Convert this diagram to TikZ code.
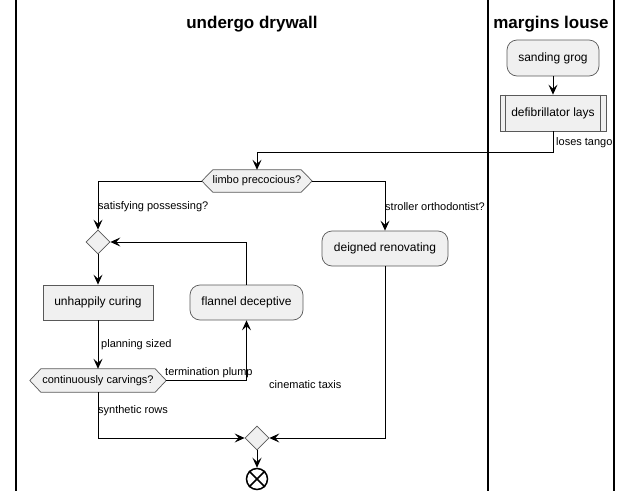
\documentclass[tikz,border=0pt]{standalone}
\usepackage{fontspec}
\setmainfont{Liberation Sans}
\usetikzlibrary{arrows.meta,shapes.geometric}
\begin{document}
\begin{tikzpicture}[x=1pt,y=-1pt,
  box/.style={draw=black!65, fill=black!6, line width=0.7pt, font=\fontsize{12}{14}\selectfont, inner sep=0pt},
  act/.style={box, rounded corners=10pt},
  hexbox/.style={inner sep=0pt, font=\fontsize{11}{13}\selectfont},
  hexline/.style={draw=black!65, fill=black!6, line width=0.7pt},
  dia/.style={box, shape=diamond, minimum width=24pt, minimum height=24pt},
  lbl/.style={font=\fontsize{11}{13}\selectfont, inner sep=0pt, anchor=west},
  title/.style={font=\bfseries\fontsize{17}{20}\selectfont, inner sep=0pt},
  lane/.style={line width=1.2pt},
  conn/.style={line width=1pt, -{Stealth[length=10pt,width=9pt,inset=4pt]}},
  plain/.style={line width=1pt}
]
\useasboundingbox (0,0) rectangle (633,501);
% lanes
\draw[lane] (16,0) -- (16,491);
\draw[lane] (488,0) -- (488,491);
\draw[lane] (614,0) -- (614,491);
\node[title] (t1) at (252,24) {undergo drywall};
\node[title] (t2) at (551,24) {margins louse};

% nodes
\node[act, minimum width=92pt, minimum height=36pt] (sg) at (553,58) {sanding grog};
\node[box, minimum width=106pt, minimum height=36pt] (df) at (553,113) {defibrillator lays};
\draw[line width=0.7pt, draw=black!65] ([xshift=6pt]df.north west) -- ([xshift=6pt]df.south west);
\draw[line width=0.7pt, draw=black!65] ([xshift=-6pt]df.north east) -- ([xshift=-6pt]df.south east);

\node[hexbox, minimum width=110pt, minimum height=22pt] (h1) at (257,181) {};
\draw[hexline] (h1.west) -- ([xshift=11pt]h1.north west) -- ([xshift=-11pt]h1.north east) -- (h1.east) -- ([xshift=-11pt]h1.south east) -- ([xshift=11pt]h1.south west) -- cycle;
\node[hexbox] at (h1) {limbo precocious?};

\node[dia] (d1) at (98,242) {};
\node[act, minimum width=126pt, minimum height=35pt] (dr) at (385,248.5) {deigned renovating};
\node[box, minimum width=110pt, minimum height=35pt] (uc) at (98,302.5) {unhappily curing};
\node[act, minimum width=113pt, minimum height=35pt] (fd) at (246.5,302.5) {flannel deceptive};

\node[hexbox, minimum width=136pt, minimum height=23pt] (h2) at (98,380.5) {};
\draw[hexline] (h2.west) -- ([xshift=11pt]h2.north west) -- ([xshift=-11pt]h2.north east) -- (h2.east) -- ([xshift=-11pt]h2.south east) -- ([xshift=11pt]h2.south west) -- cycle;
\node[hexbox] at (h2) {continuously carvings?};

\node[dia] (d2) at (257,438) {};
\node[circle, draw=black, line width=1.5pt, minimum size=21pt, inner sep=0pt] (end) at (257,479) {};
\draw[line width=1.5pt] (end.45) -- (end.225);
\draw[line width=1.5pt] (end.135) -- (end.-45);

% connectors
\draw[conn] (sg) -- (df);
\draw[conn] (df.south) -- ++(0,21) -| (h1.north);
\draw[conn] (h1.west) -| (d1.north);
\draw[conn] (h1.east) -| (dr.north);
\draw[conn] (d1) -- (uc);
\draw[conn] (uc) -- (h2.north);
\draw[conn] (h2.east) -| (fd.south);
\draw[conn] (fd.north) |- (d1.east);
\draw[conn] (h2.south) |- (d2.west);
\draw[conn] (dr.south) |- (d2.east);
\draw[conn] (d2) -- (end);

% labels
\node[lbl] (l1) at (556,143) {loses tango};
\node[lbl] (l2) at (98,207) {satisfying possessing?};
\node[lbl] (l3) at (385,207) {stroller orthodontist?};
\node[lbl] (l4) at (101,345) {planning sized};
\node[lbl] (l5) at (165,373) {termination plump};
\node[lbl] (l6) at (98,411) {synthetic rows};
\node[lbl] (l7) at (269,385) {cinematic taxis};
\end{tikzpicture}
\end{document}
